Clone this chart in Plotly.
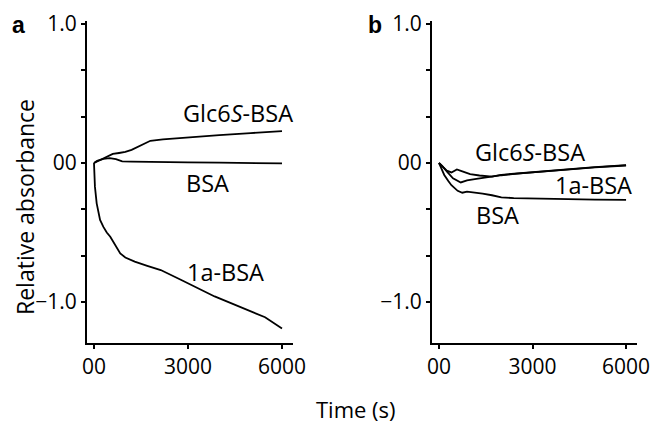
import plotly.graph_objects as go

# ---------------- data ----------------
# Panel a
a_glc_t = [0, 100, 200, 400, 600, 800, 1000, 1200, 1400, 1600, 1800, 2200, 3000, 4000, 5000, 6000]
a_glc_y = [0, 0.01, 0.02, 0.045, 0.065, 0.072, 0.08, 0.095, 0.115, 0.14, 0.16, 0.17, 0.185, 0.2, 0.215, 0.23]

a_bsa_t = [0, 100, 300, 500, 700, 900, 1200, 2000, 3000, 4000, 5000, 6000]
a_bsa_y = [0, 0.015, 0.03, 0.035, 0.028, 0.012, 0.01, 0.01, 0.005, 0.002, 0.0, -0.003]

a_1a_t = [0, 15, 30, 86, 194, 300, 408, 520, 623, 720, 838, 1000, 1300, 1700, 2130, 2770, 3850, 5460, 6000]
a_1a_y = [0, -0.08, -0.17, -0.29, -0.41, -0.46, -0.50, -0.53, -0.57, -0.61, -0.65, -0.68, -0.71, -0.74, -0.77, -0.84, -0.96, -1.11, -1.19]

# Panel b
b_glc_t = [0, 100, 250, 400, 575, 750, 1000, 1300, 1700, 2000, 2500, 3000, 4000, 5000, 6000]
b_glc_y = [0, -0.02, -0.055, -0.068, -0.046, -0.06, -0.08, -0.09, -0.098, -0.085, -0.075, -0.066, -0.045, -0.03, -0.015]

b_1a_t = [0, 100, 250, 450, 700, 900, 1200, 1500, 1700, 2000, 2500, 3000, 4000, 5000, 6000]
b_1a_y = [0, -0.02, -0.06, -0.11, -0.14, -0.125, -0.115, -0.105, -0.098, -0.088, -0.077, -0.068, -0.048, -0.032, -0.018]

b_bsa_t = [0, 80, 170, 300, 400, 600, 750, 900, 1100, 1400, 1700, 2000, 2400, 3000, 4000, 5000, 6000]
b_bsa_y = [0, -0.04, -0.086, -0.13, -0.16, -0.2, -0.214, -0.206, -0.21, -0.22, -0.232, -0.248, -0.252, -0.256, -0.26, -0.264, -0.266]

x_tickvals = [0, 3000, 6000]
x_ticktext = ["00", "3000", "6000"]
y_tickvals = [1.0, 2 / 3, 1 / 3, 0.0, -1 / 3, -2 / 3, -1.0]
y_ticktext = ["1.0", "", "", "00", "", "", "\u22121.0"]

W, H = 654, 428
FONT = "Open Sans"


def px(x):
    return x / W


def py(y):
    return 1 - y / H


fig = go.Figure()
line = dict(color="black", width=1.8)
for t, y in [(a_glc_t, a_glc_y), (a_bsa_t, a_bsa_y), (a_1a_t, a_1a_y)]:
    fig.add_trace(go.Scatter(x=t, y=y, mode="lines", line=line, xaxis="x", yaxis="y", showlegend=False))
for t, y in [(b_glc_t, b_glc_y), (b_1a_t, b_1a_y), (b_bsa_t, b_bsa_y)]:
    fig.add_trace(go.Scatter(x=t, y=y, mode="lines", line=line, xaxis="x2", yaxis="y2", showlegend=False))

xr = [-223, 6351]
yr = [-1.295, 1.0216]
TICKFONT = dict(family=FONT, size=21, color="black")
common_x = dict(range=xr, tickvals=x_tickvals, ticktext=x_ticktext, showline=True, linecolor="black",
                linewidth=2, ticks="outside", ticklen=4, tickwidth=1.5, tickcolor="black", automargin=False,
                showgrid=False, zeroline=False, tickfont=TICKFONT)
common_y = dict(range=yr, tickvals=y_tickvals, ticktext=y_ticktext, showline=True, linecolor="black",
                linewidth=2, ticks="outside", ticklen=4, tickwidth=1.5, tickcolor="black", automargin=False,
                showgrid=False, zeroline=False, tickfont=TICKFONT)

ydom = [py(343), py(21)]
fig.update_layout(
    template="none",
    width=W, height=H,
    margin=dict(l=0, r=0, t=0, b=0, autoexpand=False),
    paper_bgcolor="white", plot_bgcolor="white",
    xaxis=dict(domain=[px(87), px(293)], anchor="y", **common_x),
    yaxis=dict(domain=ydom, anchor="x", **common_y),
    xaxis2=dict(domain=[px(432), px(637)], anchor="y2", **common_x),
    yaxis2=dict(domain=ydom, anchor="x2", **common_y),
    font=dict(family=FONT, color="black"),
    showlegend=False,
)

ann = [
    ("<b>a</b>", 18, 25, 23, "Liberation Sans", 0),
    ("<b>b</b>", 375, 25, 23, "Liberation Sans", 0),
    ("Glc6<i>S</i>-BSA", 238, 113, 23.5, FONT, 0),
    ("BSA", 207, 183, 23.5, FONT, 0),
    ("1a-BSA", 225, 272, 23.5, FONT, 0),
    ("Glc6<i>S</i>-BSA", 530, 152, 23.5, FONT, 0),
    ("1a-BSA", 593, 185, 23.5, FONT, 0),
    ("BSA", 497, 215, 23.5, FONT, 0),
    ("Relative absorbance", 25, 207, 23, FONT, -90),
    ("Time (s)", 356, 409, 22, FONT, 0),
]
for text, x, y, size, fam, ang in ann:
    fig.add_annotation(text=text, x=px(x), y=py(y), xref="paper", yref="paper",
                       xanchor="center", yanchor="middle", showarrow=False, textangle=ang,
                       font=dict(family=fam, size=size, color="black"))

fig.write_html("out.html", config={"displayModeBar": False},
               post_script="document.body.style.margin='0';")
